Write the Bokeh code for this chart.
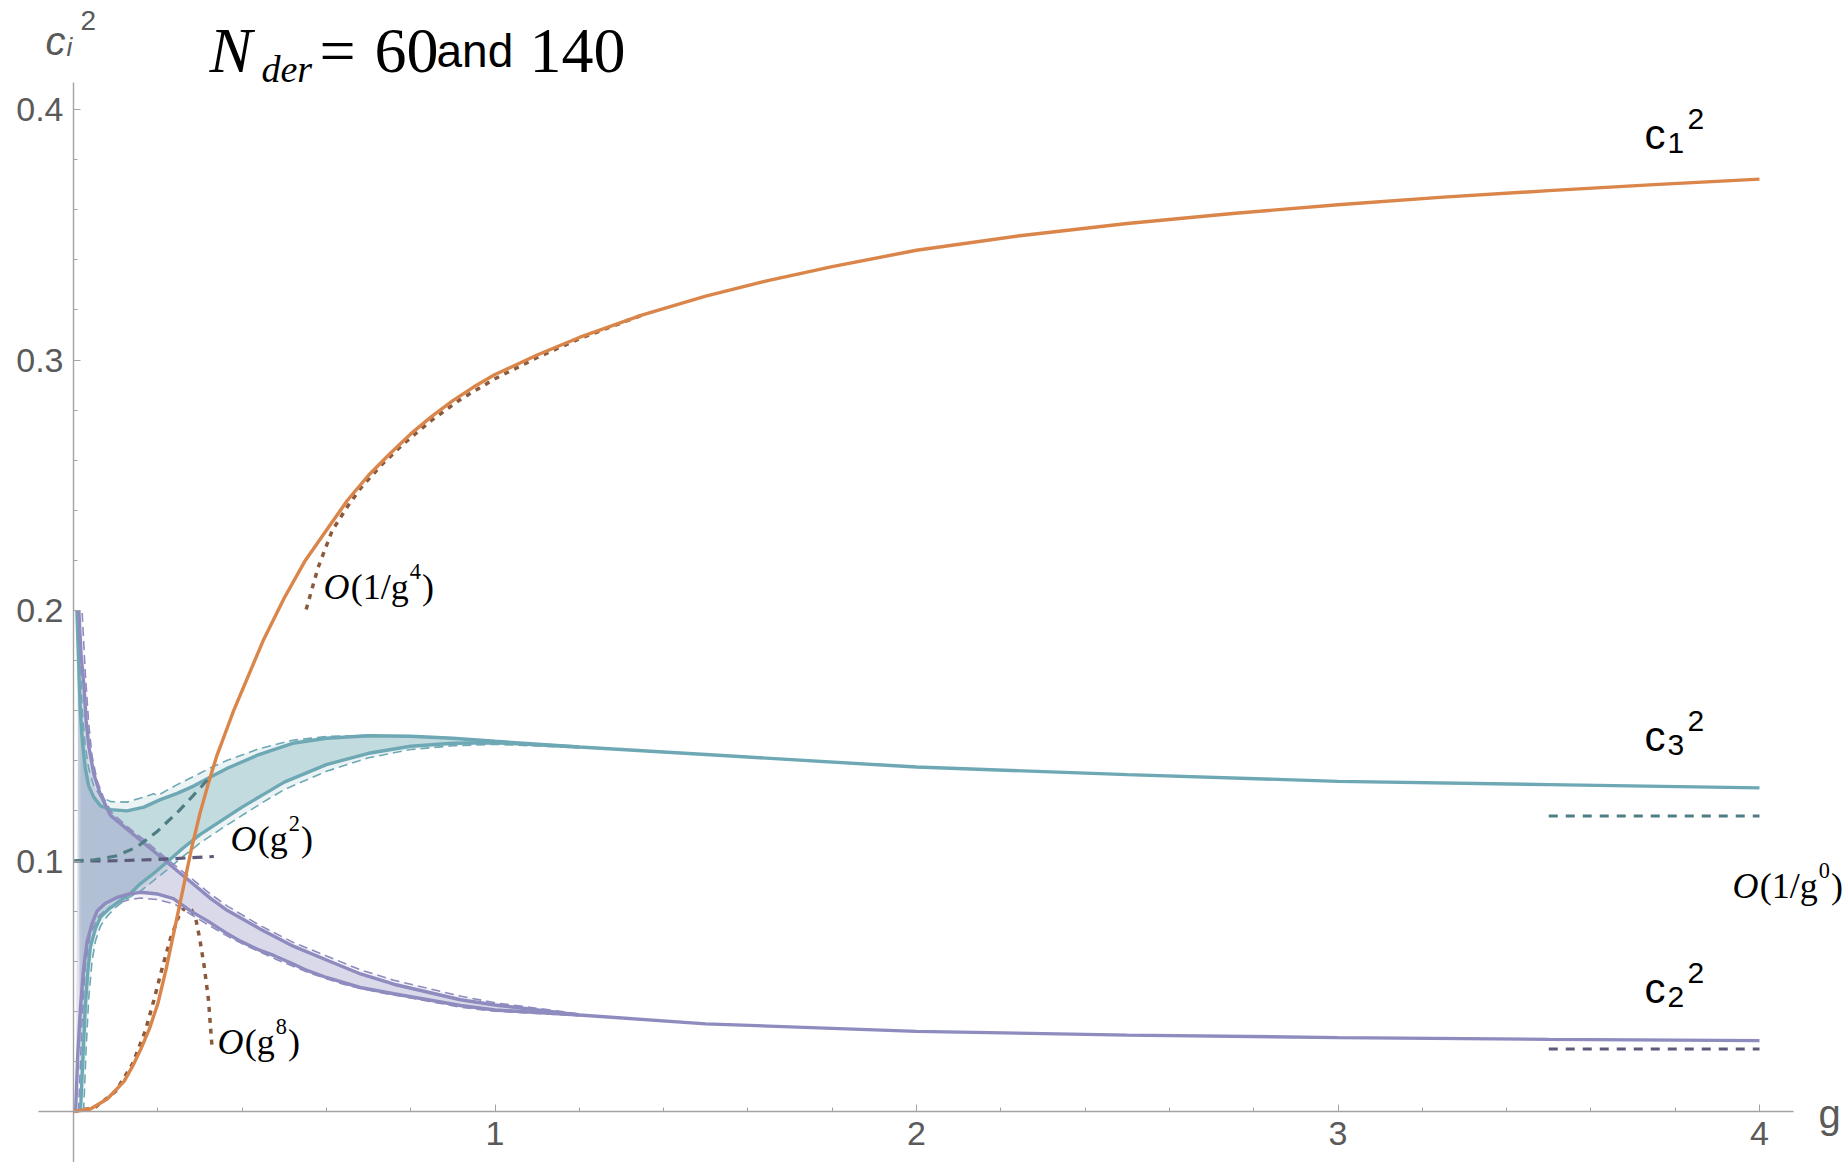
from bokeh.plotting import figure
from bokeh.models import Range1d, FixedTicker
from bokeh.core.properties import value
from bokeh.embed import file_html
from bokeh.resources import INLINE

# ---------------- data ----------------
x_ticks = [1, 2, 3, 4]
x_minor = [0.2, 0.4, 0.6, 0.8, 1.2, 1.4, 1.6, 1.8, 2.2, 2.4, 2.6, 2.8, 3.2, 3.4, 3.6, 3.8]
y_ticks = [0.1, 0.2, 0.3, 0.4]
y_minor = [0.02, 0.04, 0.06, 0.08, 0.12, 0.14, 0.16, 0.18, 0.22, 0.24, 0.26, 0.28,
           0.32, 0.34, 0.36, 0.38]

# c1^2 (orange)
c1_g = [0, 0.04, 0.08, 0.12, 0.14, 0.16, 0.18, 0.2, 0.22, 0.24, 0.26, 0.28, 0.30, 0.32, 0.34,
        0.36, 0.38, 0.40, 0.45, 0.50, 0.55, 0.60, 0.65, 0.70, 0.75, 0.80, 0.85, 0.90, 0.95,
        1.0, 1.1, 1.2, 1.35, 1.5, 1.65, 1.8, 2.0, 2.25, 2.5, 2.75, 3.0, 3.25, 3.5, 3.75, 4.0]
c1_v = [0, 0.001, 0.005, 0.012, 0.018, 0.025, 0.033, 0.043, 0.057, 0.073, 0.089, 0.105, 0.119,
        0.131, 0.142, 0.151, 0.160, 0.168, 0.188, 0.205, 0.220, 0.232, 0.244, 0.254, 0.2625,
        0.2705, 0.2775, 0.2838, 0.2893, 0.2942, 0.302, 0.309, 0.318, 0.3255, 0.3318, 0.3373,
        0.3438, 0.3497, 0.3545, 0.3585, 0.3620, 0.3650, 0.3676, 0.3700, 0.3722]

# large-g approximation of c1^2, O(1/g^4) (merges with c1^2 beyond g ~ 1.3)
a4_g = [0.552, 0.58, 0.614, 0.65, 0.682, 0.73, 0.784, 0.85, 0.92, 1.0, 1.1, 1.2, 1.35]
a4_v = [0.2004, 0.217, 0.232, 0.2415, 0.249, 0.258, 0.2667, 0.276, 0.2845, 0.2925, 0.301,
        0.3085, 0.318]

# small-g approximation of c1^2, O(g^8)
a8_g = [0, 0.05, 0.1, 0.14, 0.17, 0.19, 0.21, 0.23, 0.25, 0.265, 0.28, 0.29, 0.30, 0.31,
        0.32, 0.329]
a8_v = [0, 0.0015, 0.008, 0.019, 0.032, 0.044, 0.057, 0.069, 0.078, 0.0815, 0.0805, 0.077,
        0.0685, 0.058, 0.045, 0.025]

# c3^2 (teal): solid upper / lower bound
t_up_g = [0.008, 0.012, 0.016, 0.021, 0.028, 0.036, 0.048, 0.064, 0.088, 0.127, 0.167, 0.206,
          0.246, 0.286, 0.325, 0.365, 0.44, 0.52, 0.60, 0.70, 0.80, 0.90, 1.0, 1.2, 1.5, 2.0,
          2.5, 3.0, 3.5, 4.0]
t_up_v = [0.200, 0.180, 0.160, 0.148, 0.137, 0.130, 0.1255, 0.122, 0.1205, 0.120, 0.1215,
          0.1245, 0.127, 0.130, 0.1335, 0.137, 0.1425, 0.147, 0.149, 0.150, 0.1498, 0.149,
          0.1478, 0.1455, 0.1425, 0.1375, 0.1345, 0.1318, 0.1305, 0.1292]
t_lo_g = [0.0166, 0.022, 0.028, 0.034, 0.040, 0.052, 0.064, 0.085, 0.111, 0.135, 0.159, 0.19,
          0.222, 0.26, 0.30, 0.35, 0.40, 0.45, 0.50, 0.60, 0.70, 0.80, 0.90, 1.0, 1.2]
t_lo_v = [0.0, 0.02, 0.0416, 0.056, 0.0656, 0.073, 0.0776, 0.081, 0.0842, 0.087, 0.091, 0.095,
          0.0996, 0.1052, 0.1105, 0.116, 0.1215, 0.1265, 0.1315, 0.1385, 0.143, 0.1458, 0.147,
          0.1472, 0.1455]
# c3^2 dashed bounds
td_up_g = [0.012, 0.016, 0.021, 0.028, 0.036, 0.048, 0.064, 0.088, 0.127, 0.167, 0.19, 0.2,
           0.246, 0.286, 0.325, 0.365, 0.44, 0.52, 0.60, 0.70, 0.80, 0.90, 1.0, 1.2]
td_up_v = [0.200, 0.178, 0.160, 0.146, 0.137, 0.130, 0.1258, 0.1237, 0.1235, 0.1255, 0.1268,
           0.1262, 0.1305, 0.1338, 0.1372, 0.1402, 0.1448, 0.1482, 0.1497, 0.1502, 0.1498,
           0.149, 0.1478, 0.1455]
td_lo_g = [0.024, 0.03, 0.036, 0.044, 0.052, 0.064, 0.08, 0.1, 0.127, 0.159, 0.19, 0.222, 0.26,
           0.30, 0.35, 0.40, 0.45, 0.50, 0.60, 0.70, 0.80, 0.90, 1.0, 1.2]
td_lo_v = [0.0, 0.025, 0.045, 0.060, 0.068, 0.074, 0.078, 0.0815, 0.085, 0.088, 0.0922, 0.0965,
           0.1018, 0.1072, 0.1128, 0.1182, 0.1235, 0.1285, 0.1358, 0.1412, 0.1445, 0.146,
           0.1466, 0.1452]

# c2^2 (purple): solid upper / lower bound
p_up_g = [0.0127, 0.018, 0.0245, 0.030, 0.0364, 0.0482, 0.064, 0.0878, 0.1273, 0.1668, 0.2064,
          0.2459, 0.2855, 0.325, 0.3645, 0.4436, 0.5227, 0.6018, 0.681, 0.76, 0.918, 1.0, 1.2,
          1.5, 2.0, 2.5, 3.0, 3.5, 4.0]
p_up_v = [0.200, 0.182, 0.1704, 0.156, 0.1457, 0.1347, 0.1264, 0.1182, 0.1127, 0.1072, 0.1017,
          0.0961, 0.0906, 0.0851, 0.0803, 0.0728, 0.0659, 0.0604, 0.0549, 0.0508, 0.0446,
          0.0425, 0.0385, 0.035, 0.032, 0.0305, 0.0295, 0.0288, 0.0283]
p_lo_g = [0.005, 0.010, 0.0166, 0.024, 0.0325, 0.044, 0.056, 0.075, 0.104, 0.13, 0.159, 0.2,
          0.237, 0.278, 0.317, 0.36, 0.396, 0.44, 0.475, 0.52, 0.554, 0.60, 0.68, 0.76, 0.918,
          1.0, 1.2]
p_lo_v = [0.0, 0.022, 0.0416, 0.057, 0.068, 0.075, 0.080, 0.083, 0.0855, 0.0868, 0.0875,
          0.0868, 0.085, 0.080, 0.0762, 0.0715, 0.068, 0.0645, 0.0623, 0.059, 0.0563, 0.0535,
          0.0495, 0.047, 0.0423, 0.0405, 0.0385]
# c2^2 dashed bounds
pd_up_g = [0.0206, 0.028, 0.036, 0.044, 0.056, 0.072, 0.09, 0.127, 0.167, 0.206, 0.246, 0.286,
           0.325, 0.365, 0.44, 0.52, 0.60, 0.68, 0.76, 0.92, 1.0, 1.2]
pd_up_v = [0.199, 0.175, 0.155, 0.142, 0.132, 0.125, 0.1195, 0.1138, 0.1085, 0.1030, 0.0975,
           0.0922, 0.0868, 0.082, 0.0745, 0.0676, 0.0621, 0.0566, 0.0524, 0.0460, 0.0434, 0.039]
pd_lo_g = [0.012, 0.02, 0.028, 0.04, 0.06, 0.08, 0.104, 0.13, 0.159, 0.2, 0.24, 0.28, 0.32,
           0.36, 0.40, 0.48, 0.56, 0.64, 0.72, 0.80, 0.92, 1.0, 1.2]
pd_lo_v = [0.0, 0.035, 0.058, 0.071, 0.078, 0.081, 0.083, 0.0845, 0.0852, 0.0846, 0.0828,
           0.0785, 0.0745, 0.0705, 0.067, 0.0608, 0.0553, 0.0508, 0.0477, 0.0453, 0.0416,
           0.0400, 0.0383]

# O(g^2) small-g approximations
og2_c3_g = [0.0, 0.05, 0.1, 0.15, 0.2, 0.25, 0.3, 0.318]
og2_c3_v = [0.1, 0.1005, 0.102, 0.1055, 0.112, 0.12, 0.129, 0.1325]
og2_c2_g = [0.0, 0.1, 0.2, 0.333]
og2_c2_v = [0.1, 0.1001, 0.1006, 0.1018]

# O(1/g^0) large-g asymptotes
asym_g = [3.5, 4.0]
asym_c3 = [0.118, 0.118]
asym_c2 = [0.025, 0.025]

# ---------------- styling / layout ----------------
W, H = 1845, 1162
X0, SX = 73.0, 421.5     # pixel of g=0, pixels per unit of g
Y0, SY = 1111.0, 2505.0  # pixel of c^2=0, pixels per unit of c^2


def gx(px):
    return (px - X0) / SX


def vy(py):
    return (Y0 - py) / SY


ORANGE = "#DA8549"
TEAL = "#6EA8B4"
PURPLE = "#8E8BBF"
TEAL_D = "#4E7D83"
PURPLE_D = "#5C5B7B"
BROWN = "#8B5A3C"
AXIS = "#A3A3A3"
TICKTXT = "#5A5A5A"
SERIF = "Liberation Serif"
SANS = "Liberation Sans"

p = figure(width=W, height=H, x_range=Range1d(gx(0), gx(W)), y_range=Range1d(vy(H), vy(0)),
           output_backend="svg", toolbar_location=None, title=None, min_border=0)
p.min_border_left = p.min_border_right = p.min_border_top = p.min_border_bottom = 0
p.outline_line_color = None
p.xgrid.visible = False
p.ygrid.visible = False
p.background_fill_color = "white"
p.border_fill_color = "white"

for ax, ticks, minor, bounds in ((p.xaxis[0], x_ticks, x_minor, (gx(38), gx(1793))),
                                 (p.yaxis[0], y_ticks, y_minor, (vy(H), vy(82)))):
    ax.fixed_location = 0
    ax.bounds = bounds
    ax.ticker = FixedTicker(ticks=ticks, minor_ticks=minor)
    ax.axis_line_color = AXIS
    ax.axis_line_width = 1.4
    ax.major_tick_line_color = AXIS
    ax.minor_tick_line_color = AXIS
    ax.major_tick_in = 7
    ax.major_tick_out = 0
    ax.minor_tick_in = 4
    ax.minor_tick_out = 0
    ax.major_label_text_font = SANS
    ax.major_label_text_font_size = "34px"
    ax.major_label_text_color = TICKTXT
    ax.major_label_standoff = 10


def band(ug, uv, lg, lv, color, alpha):
    xs = list(ug) + list(lg)[::-1]
    ys = list(uv) + list(lv)[::-1]
    p.patch(xs, ys, fill_color=color, fill_alpha=alpha, line_color=None)


def upto(g, v, gmax):
    pts = [(a, b) for a, b in zip(g, v) if a <= gmax]
    return [a for a, _ in pts], [b for _, b in pts]


# filled bands
band(*upto(td_up_g, td_up_v, 1.2), td_lo_g, td_lo_v, TEAL, 0.14)
band(*upto(t_up_g, t_up_v, 1.2), t_lo_g, t_lo_v, TEAL, 0.32)
band(*upto(pd_up_g, pd_up_v, 1.2), pd_lo_g, pd_lo_v, PURPLE, 0.10)
band(*upto(p_up_g, p_up_v, 1.2), p_lo_g, p_lo_v, PURPLE, 0.25)

# dashed companion bounds
for g, v, c in ((td_up_g, td_up_v, TEAL), (td_lo_g, td_lo_v, TEAL),
                (pd_up_g, pd_up_v, PURPLE), (pd_lo_g, pd_lo_v, PURPLE)):
    p.line(g, v, line_color=c, line_width=1.6, line_dash="9 5")

# approximations under the curves
p.line(a4_g, a4_v, line_color=BROWN, line_width=3.5, line_dash="5 6")
p.line(a8_g, a8_v, line_color=BROWN, line_width=3.5, line_dash="5 6")

# solid bounds
p.line(t_up_g, t_up_v, line_color=TEAL, line_width=3.4)
p.line(t_lo_g, t_lo_v, line_color=TEAL, line_width=3.4)
p.line(p_up_g, p_up_v, line_color=PURPLE, line_width=3.4)
p.line(p_lo_g, p_lo_v, line_color=PURPLE, line_width=3.4)

# c1^2
p.line(c1_g, c1_v, line_color=ORANGE, line_width=3.4)

# O(g^2) and O(1/g^0)
p.line(og2_c2_g, og2_c2_v, line_color=PURPLE_D, line_width=3.2, line_dash="10 7")
p.line(og2_c3_g, og2_c3_v, line_color=TEAL_D, line_width=3.2, line_dash="10 7")
p.line(asym_g, asym_c3, line_color=TEAL_D, line_width=3, line_dash="9 8")
p.line(asym_g, asym_c2, line_color=PURPLE_D, line_width=3, line_dash="9 8")


# ---------------- texts ----------------
def put(txt, px, py, size, font=SANS, style="normal", color="black"):
    p.text(x=[gx(px)], y=[vy(py)], text=[txt], text_font=value(font),
           text_font_size=value(f"{size:.1f}px"), text_font_style=value(style),
           text_color=color, text_align="left", text_baseline="alphabetic")


TW = {"(": 0.333, ")": 0.333, "1": 0.5, "/": 0.278, "g": 0.5}


def o_label(px, py, inner, sup, F=36):
    put("O", px, py, F, SERIF, "italic")
    x = px + 0.76 * F
    s = "(" + inner
    put(s, x, py, F, SERIF)
    x += sum(TW[c] for c in s) * F
    fs = 0.62 * F
    put(sup, x + 1, py - 0.42 * F, fs, SERIF)
    x += 0.5 * fs + 2
    put(")", x, py, F, SERIF)


# title
put("N", 209, 50, 64, SERIF, "italic")
put("der", 261, 68, 38, SERIF, "italic")
put("=", 319, 50, 64, SERIF)
put("60", 374, 50, 64, SERIF)
put("and", 436, 50, 46, SANS)
put("140", 529, 50, 64, SERIF)

# axis labels
put("c", 45, 40, 40, SANS, "italic", TICKTXT)
put("i", 66, 46, 26, SANS, "italic", TICKTXT)
put("2", 80, 20, 28, SANS, "normal", TICKTXT)
put("g", 1818, 1113, 40, SANS, "normal", TICKTXT)

# curve labels
for sub, base in (("1", 134), ("3", 736), ("2", 988)):
    put("c", 1644, base, 42, SANS)
    put(sub, 1667, base + 8, 30, SANS)
    put("2", 1687, base - 16, 30, SANS)

# approximation labels
o_label(323, 586, "1/g", "4")
o_label(230, 838, "g", "2")
o_label(217, 1041, "g", "8")
o_label(1732, 885, "1/g", "0")

open("out.html", "w").write(file_html(p, INLINE))
